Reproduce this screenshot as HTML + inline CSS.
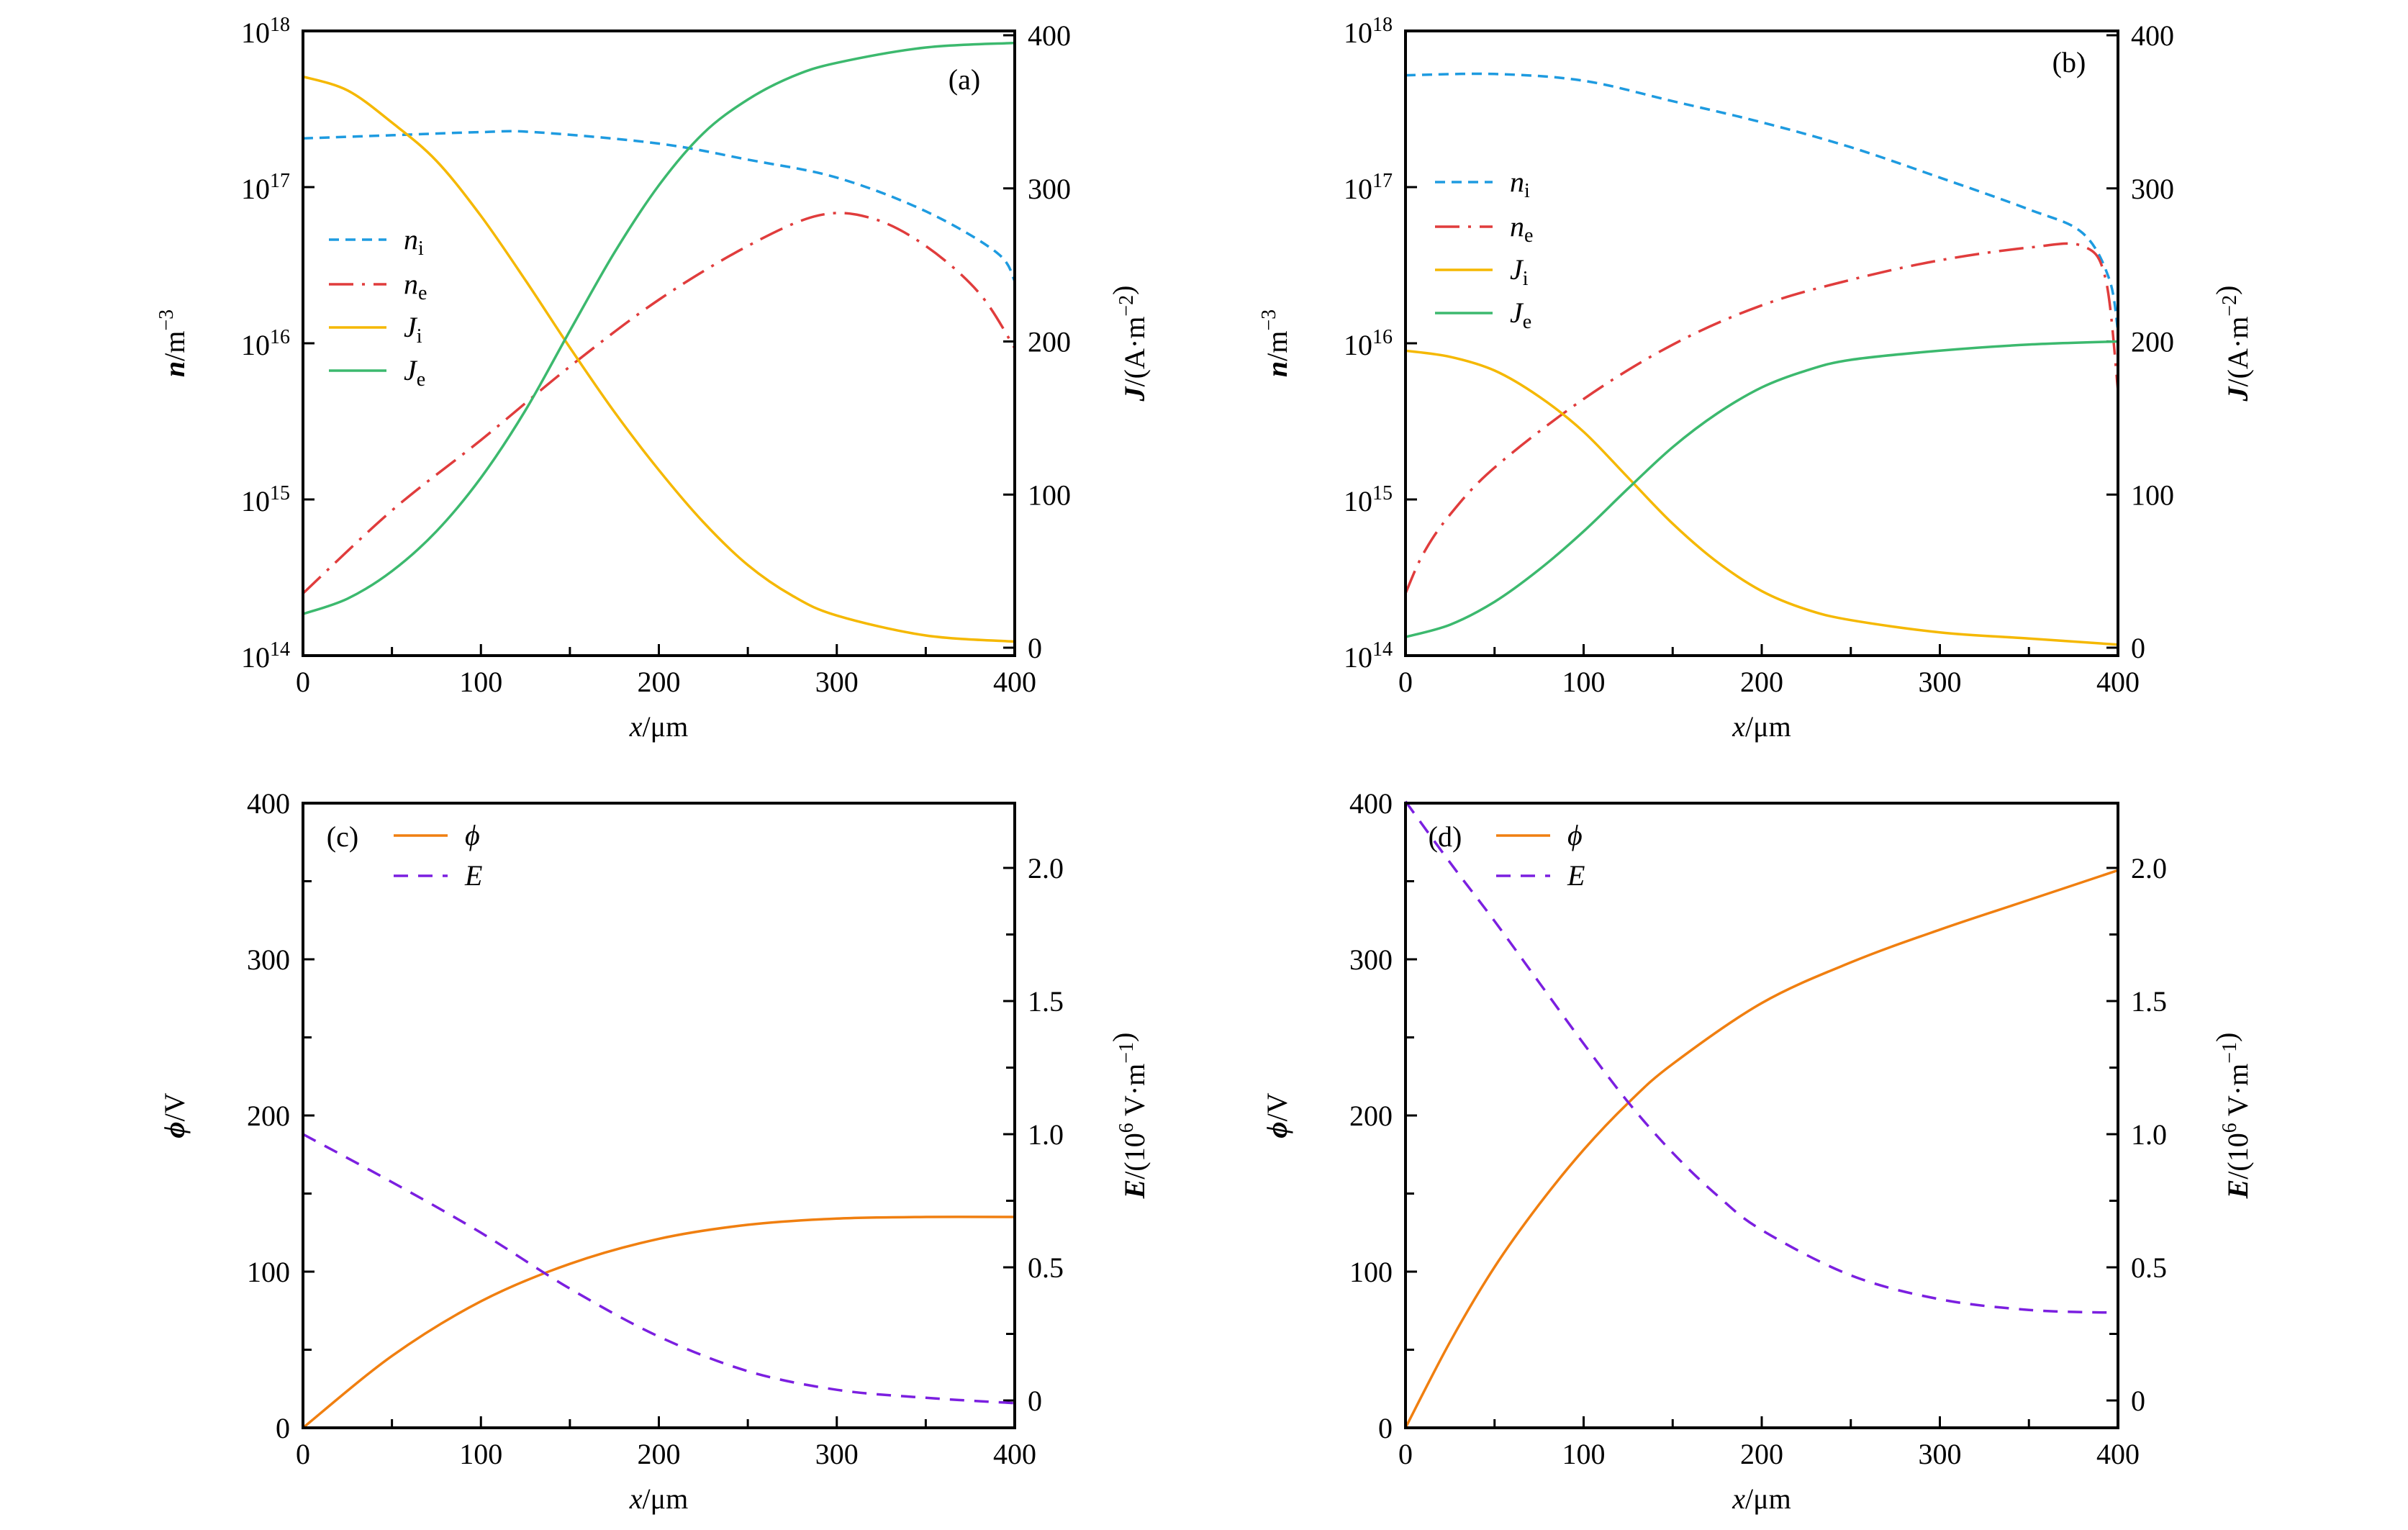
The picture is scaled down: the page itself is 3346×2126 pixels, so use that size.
<!DOCTYPE html>
<html><head><meta charset="utf-8">
<style>
html,body{margin:0;padding:0;background:#fff;}
svg{display:block;font-family:"Liberation Serif","DejaVu Serif",serif;}
</style></head>
<body>
<svg id="fig" width="3346" height="2126" viewBox="0 0 3346 2126" xmlns="http://www.w3.org/2000/svg"></svg>
<script>
// panel a
const aNiX=[0,50,100,130,200,250,300,350,390,400];
const aNi=[2.05e17,2.15e17,2.25e17,2.25e17,1.9e17,1.5e17,1.15e17,7e16,3.8e16,2.5e16];
const aNeX=[0,50,100,150,200,250,290,320,350,380,400];
const aNe=[2.5e14,8.5e14,2.4e15,7.1e15,1.9e16,4.2e16,6.6e16,6.3e16,4.2e16,2.1e16,9.3e15];
const aJX=[0,25,50,75,100,125,150,175,200,225,250,275,300,350,400];
const aJi=[373,364,343,318,282,240,196,154,116,82,54,34,21,8,4];
const aJe=[22,32,50,76,111,155,207,258,302,336,358,373,382,392,395];
// panel b
const bNiX=[0,50,100,150,200,250,300,350,380,395,400];
const bNi=[5.2e17,5.3e17,4.8e17,3.55e17,2.6e17,1.8e17,1.15e17,7.2e16,5.1e16,2.6e16,1.2e16];
const bNeX=[0,10,25,50,100,150,200,250,300,350,380,393,400];
const bNe=[2.5e14,4.5e14,8e14,1.6e15,4.4e15,9.8e15,1.75e16,2.55e16,3.4e16,4.1e16,4.2e16,2.6e16,5e15];
const bJX=[0,25,50,75,100,125,150,175,200,225,250,300,350,400];
const bJi=[194,190,181,164,141,111,81,56,37,25,18,10,6,2];
const bJe=[7,15,30,51,76,104,131,153,170,181,188,194,198,200];
// panel c
const cX=[0,50,100,150,200,250,300,350,400];
const cPhi=[0,46,81,105,121,130,134,135,135];
const cE=[1.0,0.82,0.63,0.42,0.24,0.11,0.04,0.01,-0.01];
// panel d
const dPhiX=[0,25,50,75,100,125,150,200,250,300,350,400];
const dPhi=[0,55,103,143,178,208,233,272,298,319,338,357];
const dEX=[0,25,50,75,100,125,150,175,200,250,300,350,395];
const dE=[2.25,2.02,1.80,1.57,1.34,1.12,0.93,0.77,0.64,0.47,0.38,0.34,0.33];

const xTicks=[0,100,200,300,400];
const NS="http://www.w3.org/2000/svg";
const svg=document.getElementById('fig');
function mk(tag,attrs,parent){const e=document.createElementNS(NS,tag);for(const k in attrs)e.setAttribute(k,attrs[k]);(parent||svg).appendChild(e);return e;}
function path(pts){
  let d=`M${pts[0][0].toFixed(1)},${pts[0][1].toFixed(1)}`;
  for(let i=0;i<pts.length-1;i++){
    const p0=pts[Math.max(0,i-1)],p1=pts[i],p2=pts[i+1],p3=pts[Math.min(pts.length-1,i+2)];
    const c1=[p1[0]+(p2[0]-p0[0])/6,p1[1]+(p2[1]-p0[1])/6];
    const c2=[p2[0]-(p3[0]-p1[0])/6,p2[1]-(p3[1]-p1[1])/6];
    d+=`C${c1[0].toFixed(1)},${c1[1].toFixed(1)} ${c2[0].toFixed(1)},${c2[1].toFixed(1)} ${p2[0].toFixed(1)},${p2[1].toFixed(1)}`;
  }
  return d;
}
const C={ni:'#1e9be0',ne:'#e03c3c',ji:'#f5b800',je:'#3cb96e',phi:'#f07f10',E:'#7b1fe0'};
const FS=40;
function txt(x,y,s,anchor,name,extra){const t=mk('text',Object.assign({x:x,y:y,'font-size':FS,'text-anchor':anchor||'middle'},extra||{}));t.innerHTML=s;return t;}

function panel(L,R,T,B,id){
  const g=mk('g',{});
  
  
  const X=v=>L+(R-L)*v/400;
  for(let v=0;v<=400;v+=50){
    const tk=mk('line',{x1:X(v),x2:X(v),y1:B,y2:B-(v%100==0?16:12),stroke:'#000','stroke-width':3},g);
    
    
  }
  xTicks.forEach(v=>txt(X(v),B+50,v,'middle','x-tick-label'));
  txt((L+R)/2,B+112,'<tspan font-style="italic">x</tspan>/μm','middle','x-axis-title');
  return {g,X};
}
function frame(g,L,R,T,B){
  const f=mk('rect',{x:L,y:T,width:R-L,height:B-T,fill:'none',stroke:'#000','stroke-width':4},g);
  
  
}
function series(g,X,Y,xs,ys,color,dash,name,w){
  const pts=xs.map((x,i)=>[X(x),Y(ys[i])]);
  const p=mk('path',{d:path(pts),fill:'none',stroke:color,'stroke-width':w||3.5,'stroke-dasharray':dash||'none'},g);
  
  
}
function legendEntry(g,x1,x2,y,color,dash,label,name){
  const l=mk('line',{x1:x1,x2:x2,y1:y,y2:y,stroke:color,'stroke-width':3.5,'stroke-dasharray':dash||'none'},g);
  
  
  txt(x2+24,y+13,label,'start',name);
}
const DASH_NI='14 9',DASH_NE='34 12 4 12',DASH_E='20 14';

function densityPanel(L,R,T,B,id,niX,ni,neX,ne,jX,ji,je,legX,legY,lab,labX,labY){
  const {g,X}=panel(L,R,T,B,id);
  const Yl=v=>B-(Math.log10(v)-14)/4*(B-T);
  const J0=B-11,J400=T+6;
  const Yj=v=>J0+(J400-J0)*v/400;
  [14,15,16,17,18].forEach(e=>{
    const y=B-(e-14)/4*(B-T);
    if(e>14&&e<18){const tk=mk('line',{x1:L,x2:L+16,y1:y,y2:y,stroke:'#000','stroke-width':3},g);}
    txt(L-18,y+16,'10<tspan font-size="28" dy="-16">'+e+'</tspan>','end','y-tick-label');
  });
  [0,100,200,300,400].forEach(v=>{
    const y=Yj(v);
    const tk=mk('line',{x1:R,x2:R-16,y1:y,y2:y,stroke:'#000','stroke-width':3},g);
    
    txt(R+18,y+14,v,'start','y2-tick-label');
  });
  txt(0,0,'<tspan font-style="italic" font-weight="bold">n</tspan>/m<tspan font-size="28" dy="-16">−3</tspan>','middle','y-axis-title',{transform:`translate(${L-165},${(T+B)/2}) rotate(-90)`});
  txt(0,0,'<tspan font-style="italic" font-weight="bold">J</tspan>/(A·m<tspan font-size="28" dy="-16">−2</tspan>)','middle','y2-axis-title',{transform:`translate(${R+180},${(T+B)/2}) rotate(-90)`});
  series(g,X,Yl,niX,ni,C.ni,DASH_NI,'series-ni');
  series(g,X,Yl,neX,ne,C.ne,DASH_NE,'series-ne');
  series(g,X,Yj,jX,ji,C.ji,null,'series-ji');
  series(g,X,Yj,jX,je,C.je,null,'series-je');
  frame(g,L,R,T,B);
  legendEntry(g,legX,legX+80,legY,C.ni,DASH_NI,'<tspan font-style="italic">n</tspan><tspan font-size="28" dy="8">i</tspan>','legend-ni');
  legendEntry(g,legX,legX+80,legY+62,C.ne,DASH_NE,'<tspan font-style="italic">n</tspan><tspan font-size="28" dy="8">e</tspan>','legend-ne');
  legendEntry(g,legX,legX+80,legY+122,C.ji,null,'<tspan font-style="italic">J</tspan><tspan font-size="28" dy="8">i</tspan>','legend-ji');
  legendEntry(g,legX,legX+80,legY+182,C.je,null,'<tspan font-style="italic">J</tspan><tspan font-size="28" dy="8">e</tspan>','legend-je');
  txt(labX,labY,lab,'middle','panel-label');
}
function fieldPanel(L,R,T,B,id,phiX,phi,EX,E,lab){
  const {g,X}=panel(L,R,T,B,id);
  const Yp=v=>B-(B-T)*v/400;
  const E0=B-38,E2=T+90;
  const Ye=v=>E0+(E2-E0)*v/2;
  for(let v=0;v<=400;v+=50){
    const y=Yp(v);
    if(v>0&&v<400){const tk=mk('line',{x1:L,x2:L+(v%100==0?16:12),y1:y,y2:y,stroke:'#000','stroke-width':3},g);}
    if(v%100==0)txt(L-18,y+14,v,'end','y-tick-label');
  }
  for(let v=0;v<=2.0001;v+=0.25){
    const y=Ye(v);
    const major=Math.abs(v*2-Math.round(v*2))<1e-6;
    const tk=mk('line',{x1:R,x2:R-(major?16:12),y1:y,y2:y,stroke:'#000','stroke-width':3},g);
    
    if(major)txt(R+18,y+14,v==0?'0':v.toFixed(1),'start','y2-tick-label');
  }
  txt(0,0,'<tspan font-style="italic" font-weight="bold">ϕ</tspan>/V','middle','y-axis-title',{transform:`translate(${L-165},${(T+B)/2}) rotate(-90)`});
  txt(0,0,'<tspan font-style="italic" font-weight="bold">E</tspan>/(10<tspan font-size="28" dy="-16">6</tspan><tspan dy="16"> V·m</tspan><tspan font-size="28" dy="-16">−1</tspan>)','middle','y2-axis-title',{transform:`translate(${R+180},${(T+B)/2}) rotate(-90)`});
  series(g,X,Yp,phiX,phi,C.phi,null,'series-phi');
  series(g,X,Ye,EX,E,C.E,DASH_E,'series-E');
  frame(g,L,R,T,B);
  txt(L+55,T+60,lab,'middle','panel-label');
  legendEntry(g,L+126,L+201,T+45,C.phi,null,'<tspan font-style="italic">ϕ</tspan>','legend-phi');
  legendEntry(g,L+126,L+201,T+101,C.E,DASH_E,'<tspan font-style="italic">E</tspan>','legend-E');
}
densityPanel(421,1410,43,911,'a',aNiX,aNi,aNeX,aNe,aJX,aJi,aJe,457,333,'(a)',1340,124);
densityPanel(1953,2943,43,911,'b',bNiX,bNi,bNeX,bNe,bJX,bJi,bJe,1994,253,'(b)',2875,100);
fieldPanel(421,1410,1116,1984,'c',cX,cPhi,cX,cE,'(c)');
fieldPanel(1953,2943,1116,1984,'d',dPhiX,dPhi,dEX,dE,'(d)');
</script>
</body></html>
